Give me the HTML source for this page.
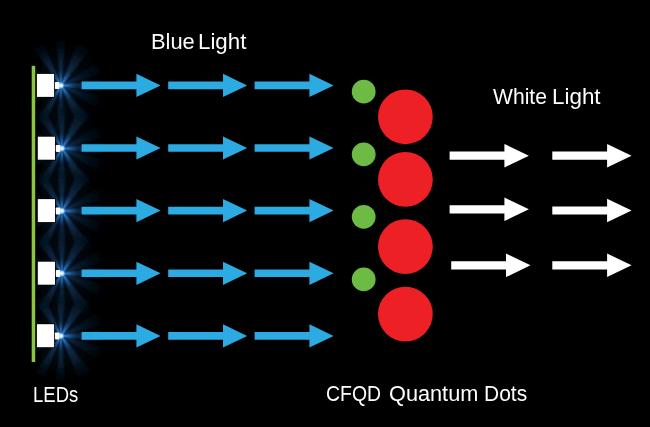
<!DOCTYPE html>
<html><head><meta charset="utf-8"><title>CFQD Quantum Dots</title>
<style>
html,body{margin:0;padding:0;background:#000;}
body{width:650px;height:427px;overflow:hidden;position:relative;font-family:"Liberation Sans",sans-serif;}
svg{position:absolute;left:0;top:0;display:block;}
.t{position:absolute;color:#fff;white-space:nowrap;line-height:1;transform-origin:0 0;font-family:"Liberation Sans",sans-serif;font-size:22px;}
</style></head><body>
<svg width="650" height="427" viewBox="0 0 650 427">
<defs>
<radialGradient id="rayg" gradientUnits="userSpaceOnUse" cx="0" cy="0" r="52">
<stop offset="0" stop-color="#4aa0f0" stop-opacity="1"/>
<stop offset="0.08" stop-color="#3088dc" stop-opacity="1"/>
<stop offset="0.18" stop-color="#1d5a98" stop-opacity="0.9"/>
<stop offset="0.3" stop-color="#123a62" stop-opacity="0.85"/>
<stop offset="0.5" stop-color="#0c2640" stop-opacity="0.8"/>
<stop offset="0.7" stop-color="#091c30" stop-opacity="0.55"/>
<stop offset="0.85" stop-color="#071626" stop-opacity="0.25"/>
<stop offset="1" stop-color="#040c14" stop-opacity="0"/>
</radialGradient>
<radialGradient id="soft" gradientUnits="userSpaceOnUse" cx="0" cy="0" r="44">
<stop offset="0" stop-color="#123a62" stop-opacity="0.5"/>
<stop offset="0.35" stop-color="#0a2038" stop-opacity="0.35"/>
<stop offset="0.7" stop-color="#06121f" stop-opacity="0.25"/>
<stop offset="1" stop-color="#03080e" stop-opacity="0"/>
</radialGradient>
<radialGradient id="halo" gradientUnits="userSpaceOnUse" cx="0" cy="0" r="6">
<stop offset="0" stop-color="#58a8f8" stop-opacity="0.9"/>
<stop offset="0.5" stop-color="#2a78cc" stop-opacity="0.5"/>
<stop offset="1" stop-color="#123a62" stop-opacity="0"/>
</radialGradient>
<radialGradient id="rayi" gradientUnits="userSpaceOnUse" cx="0" cy="0" r="17">
<stop offset="0" stop-color="#5ab0ff" stop-opacity="1"/>
<stop offset="0.2" stop-color="#3088e0" stop-opacity="1"/>
<stop offset="0.45" stop-color="#1f60a8" stop-opacity="0.8"/>
<stop offset="0.75" stop-color="#143e6c" stop-opacity="0.4"/>
<stop offset="1" stop-color="#0c2640" stop-opacity="0"/>
</radialGradient>
<radialGradient id="core" gradientUnits="userSpaceOnUse" cx="-0.3" cy="0" r="3.6">
<stop offset="0" stop-color="#ffffff" stop-opacity="1"/>
<stop offset="0.45" stop-color="#d0eaff" stop-opacity="0.95"/>
<stop offset="0.8" stop-color="#6ab4f4" stop-opacity="0.55"/>
<stop offset="1" stop-color="#2a78cc" stop-opacity="0"/>
</radialGradient>
<filter id="b2" x="-50%" y="-50%" width="200%" height="200%"><feGaussianBlur stdDeviation="0.7"/></filter>
<filter id="b1" x="-50%" y="-50%" width="200%" height="200%"><feGaussianBlur stdDeviation="1.1"/></filter>
</defs>
<rect width="650" height="427" fill="#000"/>

<g transform="translate(61.3,85.5)">
<path d="M0,-44 A44,44 0 0 1 0,44 L-20,40 L-20,-40 Z" fill="url(#soft)"/>
<g filter="url(#b1)" opacity="0.88">
<polygon points="0,0 -32.87,-42.84 -20.66,-49.89" fill="url(#rayg)"/>
<polygon points="0,0 -6.58,-53.60 4.71,-53.79" fill="url(#rayg)"/>
<polygon points="0,0 18.91,-50.58 34.35,-41.67" fill="url(#rayg)"/>
<polygon points="0,0 45.29,-29.41 52.16,-13.98" fill="url(#rayg)" opacity="0.5"/>
<polygon points="0,0 39.61,-5.57 39.61,5.57" fill="url(#rayg)"/>
<polygon points="0,0 52.16,13.98 45.29,29.41" fill="url(#rayg)" opacity="0.5"/>
<polygon points="0,0 35.07,41.06 19.79,50.24" fill="url(#rayg)"/>
<polygon points="0,0 4.71,53.79 -6.58,53.60" fill="url(#rayg)"/>
<polygon points="0,0 -20.23,50.07 -31.74,43.69" fill="url(#rayg)"/>
<polygon points="0,0 -31.52,-12.74 -28.19,-19.01" fill="url(#rayg)" opacity="0.5"/>
<polygon points="0,0 -28.19,19.01 -31.52,12.74" fill="url(#rayg)" opacity="0.5"/>
</g><g filter="url(#b2)">
<polygon points="0,0 -12.04,-13.38 -6.74,-16.69" fill="url(#rayi)"/>
<polygon points="0,0 -3.74,-17.61 1.26,-17.96" fill="url(#rayi)"/>
<polygon points="0,0 5.86,-17.02 11.81,-13.58" fill="url(#rayi)"/>
<polygon points="0,0 17.61,-3.74 17.61,3.74" fill="url(#rayi)"/>
<polygon points="0,0 12.50,12.95 6.74,16.69" fill="url(#rayi)"/>
<polygon points="0,0 1.26,17.96 -3.74,17.61" fill="url(#rayi)"/>
<polygon points="0,0 -6.74,16.69 -12.04,13.38" fill="url(#rayi)"/>
</g>
<circle cx="0" cy="0" r="6" fill="url(#halo)"/>
<circle cx="-0.3" cy="0" r="3.6" fill="url(#core)"/>
</g>
<g transform="translate(62.2,148.4)">
<path d="M0,-44 A44,44 0 0 1 0,44 L-20,40 L-20,-40 Z" fill="url(#soft)"/>
<g filter="url(#b1)" opacity="0.88">
<polygon points="0,0 -32.87,-42.84 -20.66,-49.89" fill="url(#rayg)"/>
<polygon points="0,0 -6.58,-53.60 4.71,-53.79" fill="url(#rayg)"/>
<polygon points="0,0 18.91,-50.58 34.35,-41.67" fill="url(#rayg)"/>
<polygon points="0,0 45.29,-29.41 52.16,-13.98" fill="url(#rayg)" opacity="0.5"/>
<polygon points="0,0 39.61,-5.57 39.61,5.57" fill="url(#rayg)"/>
<polygon points="0,0 52.16,13.98 45.29,29.41" fill="url(#rayg)" opacity="0.5"/>
<polygon points="0,0 35.07,41.06 19.79,50.24" fill="url(#rayg)"/>
<polygon points="0,0 4.71,53.79 -6.58,53.60" fill="url(#rayg)"/>
<polygon points="0,0 -20.23,50.07 -31.74,43.69" fill="url(#rayg)"/>
<polygon points="0,0 -31.52,-12.74 -28.19,-19.01" fill="url(#rayg)" opacity="0.5"/>
<polygon points="0,0 -28.19,19.01 -31.52,12.74" fill="url(#rayg)" opacity="0.5"/>
</g><g filter="url(#b2)">
<polygon points="0,0 -12.04,-13.38 -6.74,-16.69" fill="url(#rayi)"/>
<polygon points="0,0 -3.74,-17.61 1.26,-17.96" fill="url(#rayi)"/>
<polygon points="0,0 5.86,-17.02 11.81,-13.58" fill="url(#rayi)"/>
<polygon points="0,0 17.61,-3.74 17.61,3.74" fill="url(#rayi)"/>
<polygon points="0,0 12.50,12.95 6.74,16.69" fill="url(#rayi)"/>
<polygon points="0,0 1.26,17.96 -3.74,17.61" fill="url(#rayi)"/>
<polygon points="0,0 -6.74,16.69 -12.04,13.38" fill="url(#rayi)"/>
</g>
<circle cx="0" cy="0" r="6" fill="url(#halo)"/>
<circle cx="-0.3" cy="0" r="3.6" fill="url(#core)"/>
</g>
<g transform="translate(62.2,210.9)">
<path d="M0,-44 A44,44 0 0 1 0,44 L-20,40 L-20,-40 Z" fill="url(#soft)"/>
<g filter="url(#b1)" opacity="0.88">
<polygon points="0,0 -32.87,-42.84 -20.66,-49.89" fill="url(#rayg)"/>
<polygon points="0,0 -6.58,-53.60 4.71,-53.79" fill="url(#rayg)"/>
<polygon points="0,0 18.91,-50.58 34.35,-41.67" fill="url(#rayg)"/>
<polygon points="0,0 45.29,-29.41 52.16,-13.98" fill="url(#rayg)" opacity="0.5"/>
<polygon points="0,0 39.61,-5.57 39.61,5.57" fill="url(#rayg)"/>
<polygon points="0,0 52.16,13.98 45.29,29.41" fill="url(#rayg)" opacity="0.5"/>
<polygon points="0,0 35.07,41.06 19.79,50.24" fill="url(#rayg)"/>
<polygon points="0,0 4.71,53.79 -6.58,53.60" fill="url(#rayg)"/>
<polygon points="0,0 -20.23,50.07 -31.74,43.69" fill="url(#rayg)"/>
<polygon points="0,0 -31.52,-12.74 -28.19,-19.01" fill="url(#rayg)" opacity="0.5"/>
<polygon points="0,0 -28.19,19.01 -31.52,12.74" fill="url(#rayg)" opacity="0.5"/>
</g><g filter="url(#b2)">
<polygon points="0,0 -12.04,-13.38 -6.74,-16.69" fill="url(#rayi)"/>
<polygon points="0,0 -3.74,-17.61 1.26,-17.96" fill="url(#rayi)"/>
<polygon points="0,0 5.86,-17.02 11.81,-13.58" fill="url(#rayi)"/>
<polygon points="0,0 17.61,-3.74 17.61,3.74" fill="url(#rayi)"/>
<polygon points="0,0 12.50,12.95 6.74,16.69" fill="url(#rayi)"/>
<polygon points="0,0 1.26,17.96 -3.74,17.61" fill="url(#rayi)"/>
<polygon points="0,0 -6.74,16.69 -12.04,13.38" fill="url(#rayi)"/>
</g>
<circle cx="0" cy="0" r="6" fill="url(#halo)"/>
<circle cx="-0.3" cy="0" r="3.6" fill="url(#core)"/>
</g>
<g transform="translate(62.2,273.4)">
<path d="M0,-44 A44,44 0 0 1 0,44 L-20,40 L-20,-40 Z" fill="url(#soft)"/>
<g filter="url(#b1)" opacity="0.88">
<polygon points="0,0 -32.87,-42.84 -20.66,-49.89" fill="url(#rayg)"/>
<polygon points="0,0 -6.58,-53.60 4.71,-53.79" fill="url(#rayg)"/>
<polygon points="0,0 18.91,-50.58 34.35,-41.67" fill="url(#rayg)"/>
<polygon points="0,0 45.29,-29.41 52.16,-13.98" fill="url(#rayg)" opacity="0.5"/>
<polygon points="0,0 39.61,-5.57 39.61,5.57" fill="url(#rayg)"/>
<polygon points="0,0 52.16,13.98 45.29,29.41" fill="url(#rayg)" opacity="0.5"/>
<polygon points="0,0 35.07,41.06 19.79,50.24" fill="url(#rayg)"/>
<polygon points="0,0 4.71,53.79 -6.58,53.60" fill="url(#rayg)"/>
<polygon points="0,0 -20.23,50.07 -31.74,43.69" fill="url(#rayg)"/>
<polygon points="0,0 -31.52,-12.74 -28.19,-19.01" fill="url(#rayg)" opacity="0.5"/>
<polygon points="0,0 -28.19,19.01 -31.52,12.74" fill="url(#rayg)" opacity="0.5"/>
</g><g filter="url(#b2)">
<polygon points="0,0 -12.04,-13.38 -6.74,-16.69" fill="url(#rayi)"/>
<polygon points="0,0 -3.74,-17.61 1.26,-17.96" fill="url(#rayi)"/>
<polygon points="0,0 5.86,-17.02 11.81,-13.58" fill="url(#rayi)"/>
<polygon points="0,0 17.61,-3.74 17.61,3.74" fill="url(#rayi)"/>
<polygon points="0,0 12.50,12.95 6.74,16.69" fill="url(#rayi)"/>
<polygon points="0,0 1.26,17.96 -3.74,17.61" fill="url(#rayi)"/>
<polygon points="0,0 -6.74,16.69 -12.04,13.38" fill="url(#rayi)"/>
</g>
<circle cx="0" cy="0" r="6" fill="url(#halo)"/>
<circle cx="-0.3" cy="0" r="3.6" fill="url(#core)"/>
</g>
<g transform="translate(61.3,335.9)">
<path d="M0,-44 A44,44 0 0 1 0,44 L-20,40 L-20,-40 Z" fill="url(#soft)"/>
<g filter="url(#b1)" opacity="0.88">
<polygon points="0,0 -32.87,-42.84 -20.66,-49.89" fill="url(#rayg)"/>
<polygon points="0,0 -6.58,-53.60 4.71,-53.79" fill="url(#rayg)"/>
<polygon points="0,0 18.91,-50.58 34.35,-41.67" fill="url(#rayg)"/>
<polygon points="0,0 45.29,-29.41 52.16,-13.98" fill="url(#rayg)" opacity="0.5"/>
<polygon points="0,0 39.61,-5.57 39.61,5.57" fill="url(#rayg)"/>
<polygon points="0,0 52.16,13.98 45.29,29.41" fill="url(#rayg)" opacity="0.5"/>
<polygon points="0,0 35.07,41.06 19.79,50.24" fill="url(#rayg)"/>
<polygon points="0,0 4.71,53.79 -6.58,53.60" fill="url(#rayg)"/>
<polygon points="0,0 -20.23,50.07 -31.74,43.69" fill="url(#rayg)"/>
<polygon points="0,0 -31.52,-12.74 -28.19,-19.01" fill="url(#rayg)" opacity="0.5"/>
<polygon points="0,0 -28.19,19.01 -31.52,12.74" fill="url(#rayg)" opacity="0.5"/>
</g><g filter="url(#b2)">
<polygon points="0,0 -12.04,-13.38 -6.74,-16.69" fill="url(#rayi)"/>
<polygon points="0,0 -3.74,-17.61 1.26,-17.96" fill="url(#rayi)"/>
<polygon points="0,0 5.86,-17.02 11.81,-13.58" fill="url(#rayi)"/>
<polygon points="0,0 17.61,-3.74 17.61,3.74" fill="url(#rayi)"/>
<polygon points="0,0 12.50,12.95 6.74,16.69" fill="url(#rayi)"/>
<polygon points="0,0 1.26,17.96 -3.74,17.61" fill="url(#rayi)"/>
<polygon points="0,0 -6.74,16.69 -12.04,13.38" fill="url(#rayi)"/>
</g>
<circle cx="0" cy="0" r="6" fill="url(#halo)"/>
<circle cx="-0.3" cy="0" r="3.6" fill="url(#core)"/>
</g>
<rect x="31.7" y="65.8" width="3.5" height="296.2" fill="#8cc63f"/>
<rect x="36.1" y="73.1" width="18.8" height="24.6" fill="#000"/>
<rect x="36.9" y="73.9" width="17.2" height="23" fill="#fff"/>
<rect x="54.9" y="82.0" width="4.5" height="7" rx="0.8" fill="#fff"/>
<path transform="translate(81.6,85.4)" d="M0,-3.8 H54.8 V-11.6 L79,0 L54.8,11.6 V3.8 H0 Z" fill="#2caae2"/>
<path transform="translate(168.2,85.4)" d="M0,-3.8 H54.8 V-11.6 L79,0 L54.8,11.6 V3.8 H0 Z" fill="#2caae2"/>
<path transform="translate(254.6,85.4)" d="M0,-3.8 H54.8 V-11.6 L79,0 L54.8,11.6 V3.8 H0 Z" fill="#2caae2"/>
<rect x="37.0" y="135.9" width="18.8" height="24.6" fill="#000"/>
<rect x="37.8" y="136.7" width="17.2" height="23" fill="#fff"/>
<rect x="55.8" y="144.9" width="4.5" height="7" rx="0.8" fill="#fff"/>
<path transform="translate(81.6,148.0)" d="M0,-3.8 H54.8 V-11.6 L79,0 L54.8,11.6 V3.8 H0 Z" fill="#2caae2"/>
<path transform="translate(168.2,148.0)" d="M0,-3.8 H54.8 V-11.6 L79,0 L54.8,11.6 V3.8 H0 Z" fill="#2caae2"/>
<path transform="translate(254.6,148.0)" d="M0,-3.8 H54.8 V-11.6 L79,0 L54.8,11.6 V3.8 H0 Z" fill="#2caae2"/>
<rect x="37.0" y="198.3" width="18.8" height="24.6" fill="#000"/>
<rect x="37.8" y="199.1" width="17.2" height="23" fill="#fff"/>
<rect x="55.8" y="207.4" width="4.5" height="7" rx="0.8" fill="#fff"/>
<path transform="translate(81.6,210.6)" d="M0,-3.8 H54.8 V-11.6 L79,0 L54.8,11.6 V3.8 H0 Z" fill="#2caae2"/>
<path transform="translate(168.2,210.6)" d="M0,-3.8 H54.8 V-11.6 L79,0 L54.8,11.6 V3.8 H0 Z" fill="#2caae2"/>
<path transform="translate(254.6,210.6)" d="M0,-3.8 H54.8 V-11.6 L79,0 L54.8,11.6 V3.8 H0 Z" fill="#2caae2"/>
<rect x="37.0" y="260.9" width="18.8" height="24.6" fill="#000"/>
<rect x="37.8" y="261.7" width="17.2" height="23" fill="#fff"/>
<rect x="55.8" y="269.9" width="4.5" height="7" rx="0.8" fill="#fff"/>
<path transform="translate(81.6,273.3)" d="M0,-3.8 H54.8 V-11.6 L79,0 L54.8,11.6 V3.8 H0 Z" fill="#2caae2"/>
<path transform="translate(168.2,273.3)" d="M0,-3.8 H54.8 V-11.6 L79,0 L54.8,11.6 V3.8 H0 Z" fill="#2caae2"/>
<path transform="translate(254.6,273.3)" d="M0,-3.8 H54.8 V-11.6 L79,0 L54.8,11.6 V3.8 H0 Z" fill="#2caae2"/>
<rect x="36.1" y="323.4" width="18.8" height="24.6" fill="#000"/>
<rect x="36.9" y="324.2" width="17.2" height="23" fill="#fff"/>
<rect x="54.9" y="332.4" width="4.5" height="7" rx="0.8" fill="#fff"/>
<path transform="translate(81.6,335.9)" d="M0,-3.8 H54.8 V-11.6 L79,0 L54.8,11.6 V3.8 H0 Z" fill="#2caae2"/>
<path transform="translate(168.2,335.9)" d="M0,-3.8 H54.8 V-11.6 L79,0 L54.8,11.6 V3.8 H0 Z" fill="#2caae2"/>
<path transform="translate(254.6,335.9)" d="M0,-3.8 H54.8 V-11.6 L79,0 L54.8,11.6 V3.8 H0 Z" fill="#2caae2"/>
<circle cx="363.7" cy="91.7" r="11.9" fill="#6dbb45"/>
<circle cx="363.7" cy="154.3" r="11.9" fill="#6dbb45"/>
<circle cx="363.7" cy="216.8" r="11.9" fill="#6dbb45"/>
<circle cx="363.7" cy="279.4" r="11.9" fill="#6dbb45"/>
<circle cx="405.4" cy="116.8" r="27.4" fill="#ed2026"/>
<circle cx="405.4" cy="179.4" r="27.4" fill="#ed2026"/>
<circle cx="405.4" cy="246.6" r="27.4" fill="#ed2026"/>
<circle cx="405.4" cy="314.1" r="27.4" fill="#ed2026"/>
<path transform="translate(449.6,155.7)" d="M0,-4.1 H54.8 V-11.8 L79.3,0 L54.8,11.8 V4.1 H0 Z" fill="#fff"/>
<path transform="translate(552.3,155.7)" d="M0,-4.1 H54.8 V-11.8 L79.3,0 L54.8,11.8 V4.1 H0 Z" fill="#fff"/>
<path transform="translate(449.6,209.3)" d="M0,-4.1 H54.8 V-11.8 L79.3,0 L54.8,11.8 V4.1 H0 Z" fill="#fff"/>
<path transform="translate(552.3,210.5)" d="M0,-4.1 H54.8 V-11.8 L79.3,0 L54.8,11.8 V4.1 H0 Z" fill="#fff"/>
<path transform="translate(451.2,265.3)" d="M0,-4.1 H54.8 V-11.8 L79.3,0 L54.8,11.8 V4.1 H0 Z" fill="#fff"/>
<path transform="translate(552.3,265.3)" d="M0,-4.1 H54.8 V-11.8 L79.3,0 L54.8,11.8 V4.1 H0 Z" fill="#fff"/>
</svg>
<div class="t" style="left:150.9px;top:31.2px;font-size:22.3px;transform:scaleX(0.981);">Blue</div>
<div class="t" style="left:197.66px;top:31.2px;font-size:22.3px;transform:scaleX(1.001);">Light</div>
<div class="t" style="left:493.46px;top:86.4px;font-size:22px;transform:scaleX(0.959);">White</div>
<div class="t" style="left:552.25px;top:86.4px;font-size:22px;transform:scaleX(1.018);">Light</div>
<div class="t" style="left:33.05px;top:384.3px;font-size:22px;transform:scaleX(0.841);">LEDs</div>
<div class="t" style="left:326.3px;top:382.9px;font-size:22px;transform:scaleX(0.883);">CFQD</div>
<div class="t" style="left:389.33px;top:382.9px;font-size:22px;transform:scaleX(0.987);">Quantum</div>
<div class="t" style="left:483.96px;top:382.9px;font-size:22px;transform:scaleX(0.954);">Dots</div>
</body></html>
